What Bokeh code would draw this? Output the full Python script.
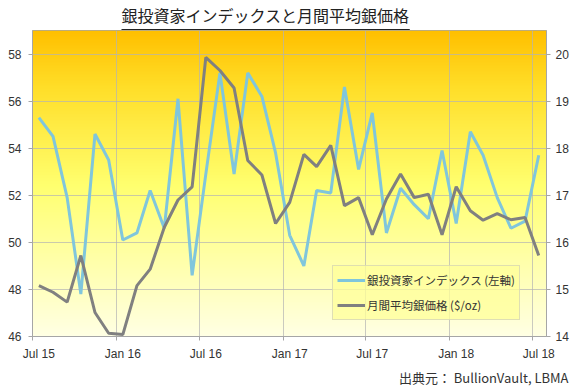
import numpy as np
import pandas as pd
from bokeh.plotting import figure
from bokeh.models import (Range1d, LinearAxis, FixedTicker, DatetimeTickFormatter,
                          Legend, LegendItem, Title, ColumnDataSource)
from bokeh.embed import file_html
from bokeh.resources import INLINE

# ---- data ----
month_labels = pd.date_range("2015-07-01", periods=37, freq="MS")
index_values = [55.3, 54.5, 51.9, 47.8, 54.6, 53.5, 50.1, 50.4, 52.2, 50.6, 56.1, 48.6,
                52.9, 57.2, 52.9, 57.2, 56.2, 53.8, 50.3, 49.0, 52.2, 52.1, 56.6, 53.1,
                55.5, 50.4, 52.3, 51.6, 51.0, 53.9, 50.8, 54.7, 53.7, 51.9, 50.6, 50.9, 53.7]
silver_price = [15.08, 14.94, 14.73, 15.72, 14.51, 14.07, 14.04, 15.08, 15.43, 16.32, 16.90, 17.18,
                19.93, 19.65, 19.28, 17.74, 17.43, 16.40, 16.85, 17.87, 17.61, 18.06, 16.78, 16.95,
                16.16, 16.92, 17.45, 16.95, 17.02, 16.16, 17.18, 16.67, 16.47, 16.61, 16.48, 16.53, 15.72]
tick_dates = ["2015-07-01", "2016-01-01", "2016-07-01", "2017-01-01",
              "2017-07-01", "2018-01-01", "2018-07-01"]
left_ticks = [46, 48, 50, 52, 54, 56, 58]
right_ticks = [14, 15, 16, 17, 18, 19, 20]

title_text = "銀投資家インデックスと月間平均銀価格"
source_text = "出典元： BullionVault, LBMA"
name_index = "銀投資家インデックス (左軸)"
name_silver = "月間平均銀価格 ($/oz)"

def ms(ts):
    return pd.Timestamp(ts).value / 1e6

x_dates = month_labels + pd.Timedelta(days=14)
src = ColumnDataSource(dict(x=x_dates, idx=index_values, ag=silver_price))

x_start = ms("2015-07-01")
x_end = ms("2018-08-01")

p = figure(width=588, height=390, output_backend="svg", toolbar_location=None,
           x_axis_type="datetime", title=title_text,
           x_range=Range1d(x_start, x_end), y_range=Range1d(46, 59),
           min_border_left=32, min_border_right=42, min_border_bottom=54, min_border_top=29,
           background_fill_color="white", border_fill_color="white")
p.extra_y_ranges = {"right": Range1d(14, 20.5)}

# ---- gradient background ----
H = 200
frac = np.linspace(0, 1, H)  # 0 = bottom, 1 = top
stops_f = [0.0, 0.5, 0.82, 1.0]
stops_r = [255, 255, 255, 255]
stops_g = [255, 255, 222, 192]
stops_b = [228, 110, 40, 0]
r = np.interp(frac, stops_f, stops_r)
g = np.interp(frac, stops_f, stops_g)
b = np.interp(frac, stops_f, stops_b)
img = np.zeros((H, 2), dtype=np.uint32)
view = img.view(dtype=np.uint8).reshape((H, 2, 4))
for j in range(2):
    view[:, j, 0] = r.astype(np.uint8)
    view[:, j, 1] = g.astype(np.uint8)
    view[:, j, 2] = b.astype(np.uint8)
    view[:, j, 3] = 255
p.image_rgba(image=[img], x=x_start, y=46, dw=x_end - x_start, dh=13, level="image")

# ---- lines ----
r1 = p.line("x", "idx", source=src, line_color="#80C6DC", line_width=3)
r2 = p.line("x", "ag", source=src, line_color="#808080", line_width=3, y_range_name="right")

# ---- axes ----
label_color = "#333333"
ax_color = "#A6A6A6"
tick_ms = [ms(d) for d in tick_dates]
label_ms = [ms(pd.Timestamp(d) + pd.Timedelta(days=14)) for d in tick_dates]
p.xaxis.ticker = FixedTicker(ticks=label_ms, minor_ticks=tick_ms)
fmt = "%b %y"
p.xaxis.formatter = DatetimeTickFormatter(years=fmt, months=fmt, days=fmt, hours=fmt,
                                          minutes=fmt, seconds=fmt, milliseconds=fmt,
                                          microseconds=fmt, hourmin=fmt, minsec=fmt)
p.yaxis.ticker = FixedTicker(ticks=left_ticks)

right_axis = LinearAxis(y_range_name="right", ticker=FixedTicker(ticks=right_ticks))
p.add_layout(right_axis, "right")

for ax in [p.xaxis[0], p.yaxis[0], right_axis]:
    ax.axis_line_color = ax_color
    ax.major_tick_line_color = ax_color
    ax.major_tick_in = 0
    ax.major_tick_out = 4
    ax.minor_tick_line_color = None
    ax.major_label_text_font = "Liberation Sans"
    ax.major_label_text_font_size = "12px"
    ax.major_label_text_color = label_color
    ax.major_label_standoff = 3

# x axis: tick marks at month starts (minor), labels at mid-month (major)
xa = p.xaxis[0]
xa.major_tick_line_color = None
xa.minor_tick_line_color = ax_color
xa.minor_tick_in = 0
xa.minor_tick_out = 4
xa.major_label_standoff = 6
p.yaxis[0].major_label_standoff = 7
right_axis.major_label_standoff = 5

p.xgrid.ticker = FixedTicker(ticks=tick_ms)
p.ygrid.ticker = FixedTicker(ticks=left_ticks)
for gr in [p.xgrid[0], p.ygrid[0]]:
    gr.grid_line_color = "#B4B4B4"
    gr.grid_line_alpha = 0.7
    gr.grid_line_width = 1
p.outline_line_color = ax_color

# ---- legend ----
legend = Legend(items=[LegendItem(label=name_index, renderers=[r1]),
                       LegendItem(label=name_silver, renderers=[r2])],
                location=(300, 16))
legend.background_fill_color = "#FFFF99"
legend.background_fill_alpha = 0.75
legend.border_line_color = "#BFBFBF"
legend.label_text_font = "Noto Sans CJK JP"
legend.label_text_font_size = "11.5px"
legend.label_text_color = label_color
legend.glyph_width = 28
legend.glyph_height = 20
legend.label_height = 20
legend.label_standoff = 2
legend.spacing = 5
legend.padding = 4
legend.margin = 0
p.add_layout(legend, "center")

# ---- titles ----
p.title.align = "left"
p.title.offset = 89
p.title.text_font = "Noto Sans CJK JP"
p.title.text_font_size = "16px"
p.title.text_font_style = "normal"
p.title.text_color = "#222222"
p.title.standoff = 0

# underline of the title (thin bar between title and frame)
underline = Title(text=" ", align="left", offset=89, text_font_size="1px",
                  background_fill_color="#222222", background_fill_alpha=1,
                  border_line_color=None,
                  padding=(144, 0), standoff=1)
p.add_layout(underline, "above")

s = Title(text=source_text, align="right", offset=-22, text_font="Noto Sans CJK JP",
          text_font_size="13px", text_font_style="normal", text_color="#333333",
          standoff=4)
p.add_layout(s, "below")

open("out.html", "w").write(file_html(p, INLINE))
